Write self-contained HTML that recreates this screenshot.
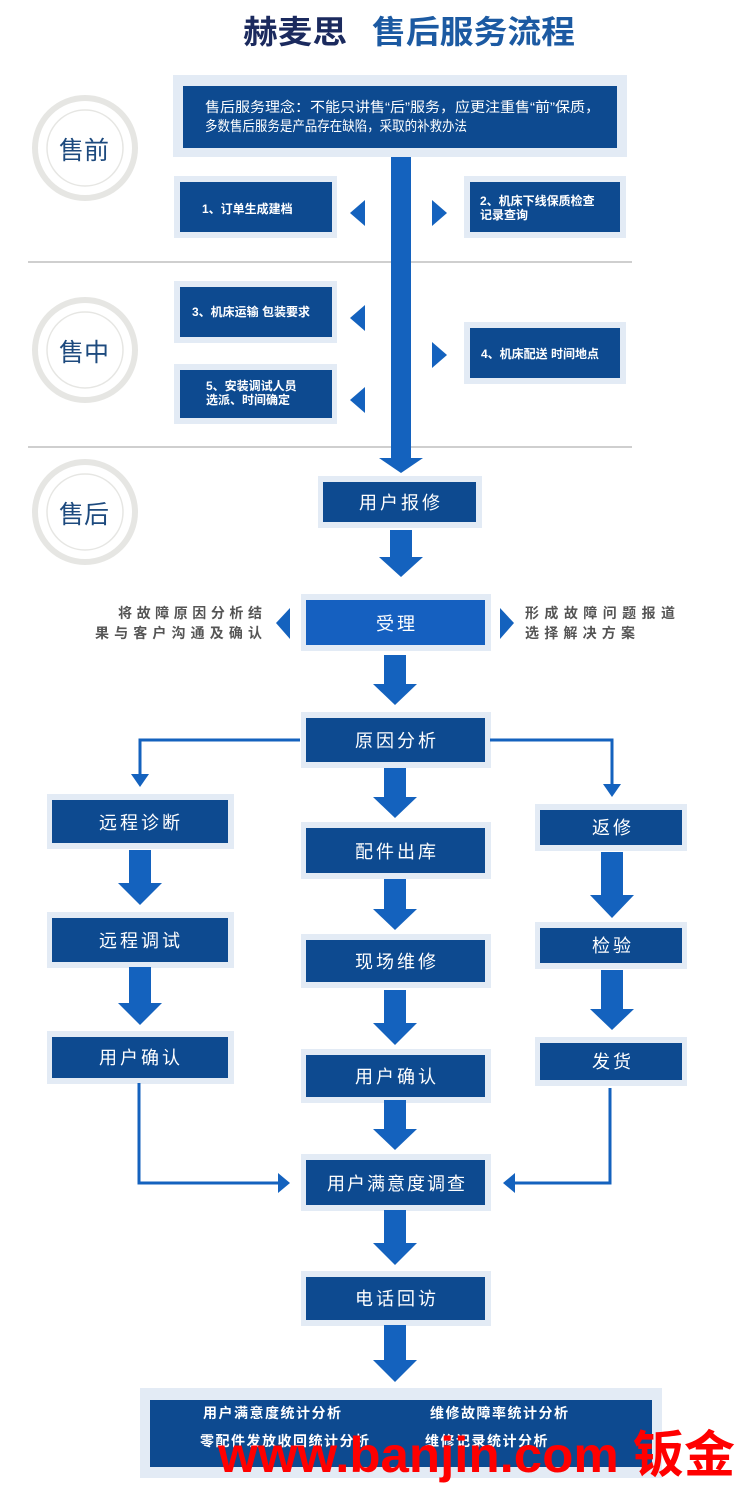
<!DOCTYPE html>
<html><head><meta charset="utf-8"><style>
html,body{margin:0;padding:0;background:#fff;}
svg{display:block;}
text{font-family:"Liberation Sans","Noto Sans CJK SC",sans-serif;}
</style></head><body>
<svg width="750" height="1492" viewBox="0 0 750 1492" xmlns="http://www.w3.org/2000/svg">
<rect width="750" height="1492" fill="#fff"/>
<text x="243" y="43" font-size="32" font-weight="bold" fill="#1b2a5e" textLength="104" lengthAdjust="spacingAndGlyphs">赫麦思</text>
<text x="372" y="43" font-size="32" font-weight="bold" fill="#1c5aa2" textLength="203" lengthAdjust="spacingAndGlyphs">售后服务流程</text>

<g fill="none" stroke="#e6e6e3">
<circle cx="85" cy="148" r="50" stroke-width="6"/><circle cx="85" cy="148" r="38" stroke-width="1.5"/>
<circle cx="85" cy="350" r="50" stroke-width="6"/><circle cx="85" cy="350" r="38" stroke-width="1.5"/>
<circle cx="85" cy="512" r="50" stroke-width="6"/><circle cx="85" cy="512" r="38" stroke-width="1.5"/>
</g>
<g font-size="25" fill="#1d4a7e" text-anchor="middle">
<text x="84" y="159">售前</text><text x="84" y="361">售中</text><text x="84" y="523">售后</text>
</g>
<line x1="28" y1="262" x2="632" y2="262" stroke="#cfcfcf" stroke-width="2"/>
<line x1="28" y1="447" x2="632" y2="447" stroke="#cfcfcf" stroke-width="2"/>

<g fill="#e3ebf5">
<rect x="173" y="75" width="454" height="82"/>
<rect x="174" y="176" width="163" height="62"/><rect x="464" y="176" width="162" height="62"/>
<rect x="174" y="281" width="163" height="62"/><rect x="174" y="364" width="163" height="60"/><rect x="464" y="322" width="162" height="62"/>
<rect x="318" y="476" width="164" height="52"/>
<rect x="301" y="594" width="190" height="57"/>
<rect x="301" y="712" width="190" height="56"/>
<rect x="47" y="794" width="187" height="55"/><rect x="47" y="912" width="187" height="56"/><rect x="47" y="1031" width="187" height="53"/>
<rect x="301" y="822" width="190" height="57"/><rect x="301" y="934" width="190" height="54"/><rect x="301" y="1049" width="190" height="54"/>
<rect x="301" y="1154" width="190" height="57"/><rect x="301" y="1271" width="190" height="55"/>
<rect x="535" y="804" width="152" height="47"/><rect x="535" y="922" width="152" height="47"/><rect x="535" y="1037" width="152" height="49"/>
<rect x="140" y="1388" width="522" height="90"/>
</g>
<g fill="#0d4a90">
<rect x="183" y="86" width="434" height="62"/>
<rect x="180" y="182" width="152" height="50"/><rect x="470" y="182" width="150" height="50"/>
<rect x="180" y="287" width="152" height="50"/><rect x="180" y="370" width="152" height="48"/><rect x="470" y="328" width="150" height="50"/>
<rect x="323" y="482" width="153" height="40"/>
<rect x="306" y="718" width="179" height="44"/>
<rect x="52" y="800" width="176" height="43"/><rect x="52" y="918" width="176" height="44"/><rect x="52" y="1037" width="176" height="41"/>
<rect x="306" y="828" width="179" height="45"/><rect x="306" y="940" width="179" height="42"/><rect x="306" y="1055" width="179" height="42"/>
<rect x="306" y="1160" width="179" height="45"/><rect x="306" y="1277" width="179" height="43"/>
<rect x="540" y="810" width="142" height="35"/><rect x="540" y="928" width="142" height="35"/><rect x="540" y="1043" width="142" height="37"/>
<rect x="150" y="1400" width="502" height="67"/>
</g>
<rect x="306" y="600" width="179" height="45" fill="#1560c0"/>

<g fill="#fff" font-size="14">
<text x="205" y="112" textLength="395" lengthAdjust="spacingAndGlyphs">售后服务理念：不能只讲售“后”服务，应更注重售“前”保质，</text>
<text x="205" y="131" textLength="262" lengthAdjust="spacingAndGlyphs">多数售后服务是产品存在缺陷，采取的补救办法</text>
</g>
<g fill="#fff" font-size="12" font-weight="bold">
<text x="202" y="213">1、订单生成建档</text>
<text x="480" y="205">2、机床下线保质检查</text><text x="480" y="219">记录查询</text>
<text x="192" y="316">3、机床运输 包装要求</text>
<text x="206" y="390">5、安装调试人员</text><text x="206" y="404">选派、时间确定</text>
<text x="481" y="358">4、机床配送 时间地点</text>
</g>
<g fill="#fff" font-size="18" text-anchor="middle" letter-spacing="3">
<text x="401" y="509">用户报修</text>
<text x="397" y="630">受理</text>
<text x="397" y="747">原因分析</text>
<text x="141" y="829">远程诊断</text><text x="141" y="947">远程调试</text><text x="141" y="1064">用户确认</text>
<text x="397" y="858">配件出库</text><text x="397" y="968">现场维修</text><text x="397" y="1083">用户确认</text>
<text x="397" y="1190" letter-spacing="2">用户满意度调查</text><text x="397" y="1305">电话回访</text>
<text x="613" y="834">返修</text><text x="613" y="952">检验</text><text x="613" y="1068">发货</text>
</g>
<g fill="#555" font-size="14" font-weight="bold">
<text x="118" y="618" textLength="144" lengthAdjust="spacing">将故障原因分析结</text>
<text x="95" y="638" textLength="167" lengthAdjust="spacing">果与客户沟通及确认</text>
<text x="525" y="618" textLength="150" lengthAdjust="spacing">形成故障问题报道</text>
<text x="525" y="638" textLength="110" lengthAdjust="spacing">选择解决方案</text>
</g>
<g fill="#fff" font-size="14" font-weight="bold" letter-spacing="1.5">
<text x="203" y="1418">用户满意度统计分析</text><text x="430" y="1418">维修故障率统计分析</text>
<text x="200" y="1446">零配件发放收回统计分析</text><text x="425" y="1446">维修记录统计分析</text>
</g>

<g fill="#1462be">
<rect x="391" y="157" width="20" height="305"/><polygon points="379,458 423,458 401,473"/>
<polygon points="365,200 350,213 365,226"/><polygon points="432,200 447,213 432,226"/>
<polygon points="365,305 350,318 365,331"/><polygon points="365,387 350,400 365,413"/><polygon points="432,342 447,355 432,368"/>
<polygon points="290,608 276,623 290,639"/><polygon points="500,608 514,623 500,639"/>
</g>
<g fill="#1462be">
<rect x="390" y="530" width="22" height="28"/><polygon points="379,557 423,557 401,577"/>
<rect x="384" y="655" width="22" height="30"/><polygon points="373,684 417,684 395,705"/>
<rect x="384" y="768" width="22" height="30"/><polygon points="373,797 417,797 395,818"/>
<rect x="384" y="879" width="22" height="31"/><polygon points="373,909 417,909 395,930"/>
<rect x="384" y="990" width="22" height="34"/><polygon points="373,1023 417,1023 395,1045"/>
<rect x="384" y="1100" width="22" height="30"/><polygon points="373,1129 417,1129 395,1150"/>
<rect x="384" y="1210" width="22" height="34"/><polygon points="373,1243 417,1243 395,1265"/>
<rect x="384" y="1325" width="22" height="36"/><polygon points="373,1360 417,1360 395,1382"/>
<rect x="129" y="850" width="22" height="34"/><polygon points="118,883 162,883 140,905"/>
<rect x="129" y="967" width="22" height="37"/><polygon points="118,1003 162,1003 140,1025"/>
<rect x="601" y="852" width="22" height="44"/><polygon points="590,895 634,895 612,918"/>
<rect x="601" y="970" width="22" height="40"/><polygon points="590,1009 634,1009 612,1030"/>
</g>
<g fill="none" stroke="#1462be" stroke-width="3">
<polyline points="300,740 140,740 140,775"/>
<polyline points="490,740 612,740 612,785"/>
<polyline points="139,1083 139,1183 280,1183"/>
<polyline points="610,1088 610,1183 515,1183"/>
</g>
<g fill="#1462be">
<polygon points="131,774 149,774 140,787"/>
<polygon points="603,784 621,784 612,797"/>
<polygon points="278,1173 290,1183 278,1193"/>
<polygon points="515,1173 503,1183 515,1193"/>
</g>

<text x="218" y="1472" font-size="50" font-weight="bold" fill="#f00" textLength="517" lengthAdjust="spacingAndGlyphs">www.banjin.com 钣金</text>
</svg>
</body></html>
